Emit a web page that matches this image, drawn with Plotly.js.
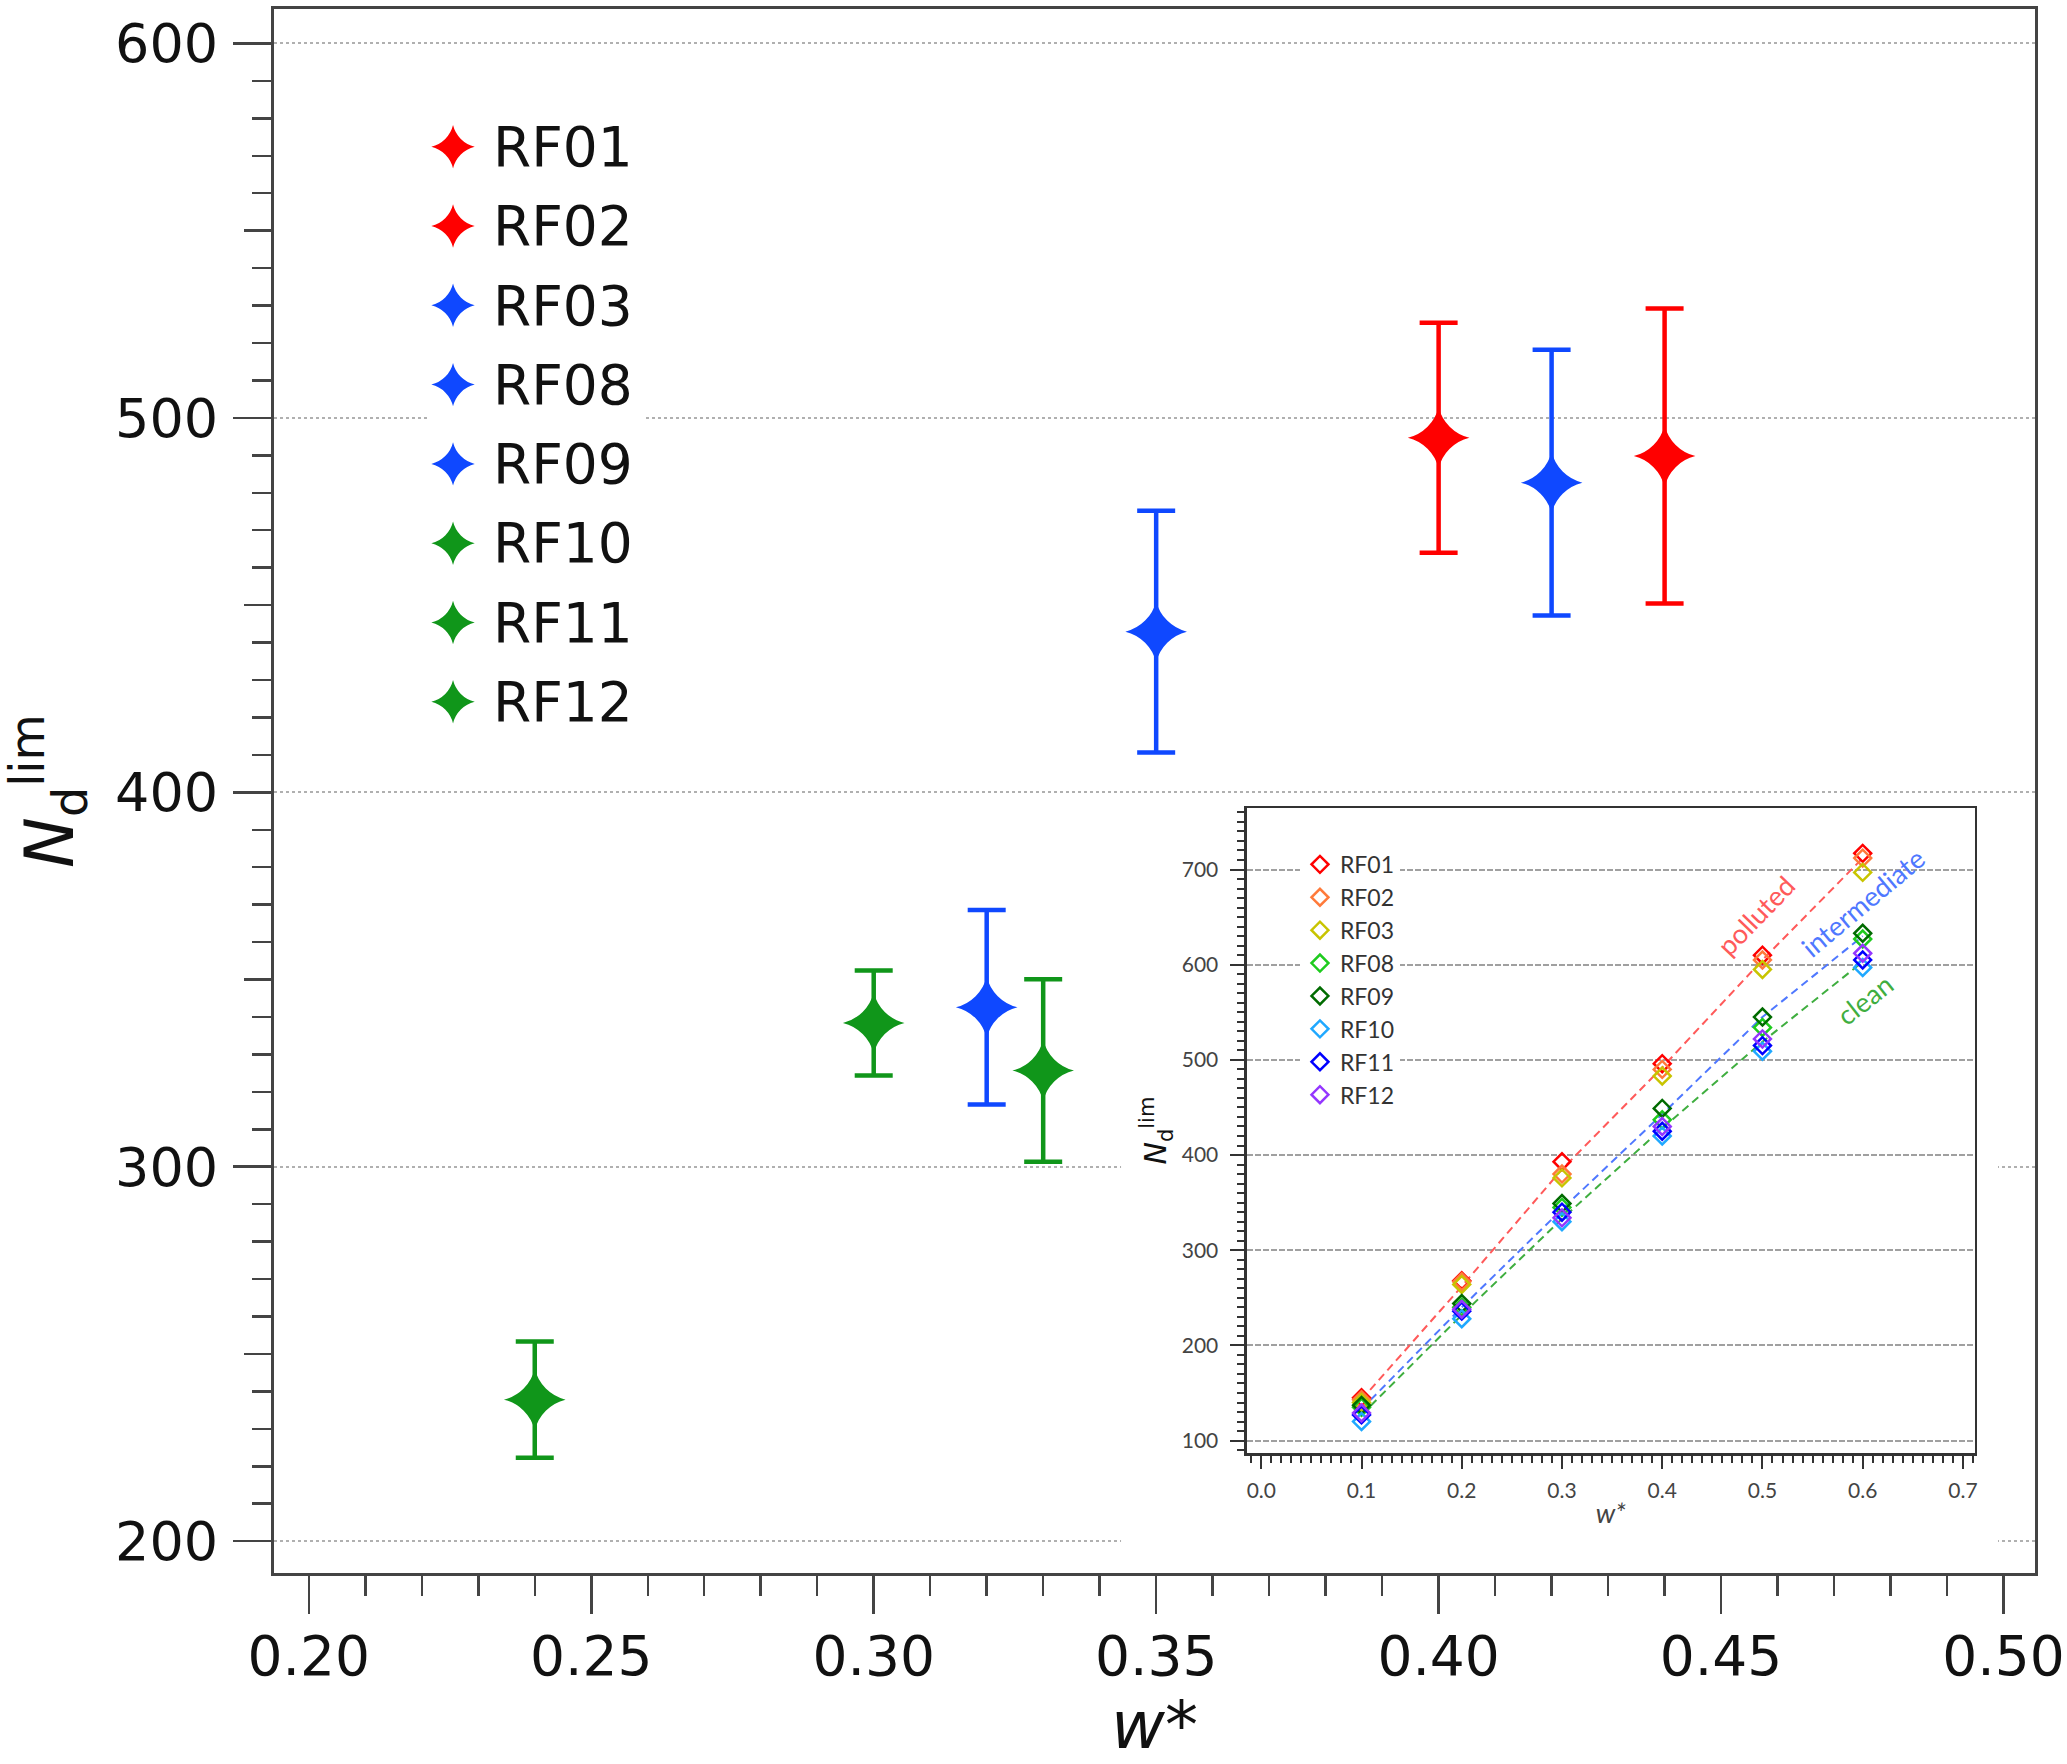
<!DOCTYPE html>
<html>
<head>
<meta charset="utf-8">
<script src="https://cdn.plot.ly/plotly-3.0.1.min.js"></script>
<style>
  html, body { margin: 0; padding: 0; background: #fff; }
  #chart { width: 2067px; height: 1764px; }
</style>
</head>
<body>
<div id="chart"></div>
<script>
// main panel: one point per flight with its error bar
const flights = ['RF01', 'RF02', 'RF03', 'RF08', 'RF09', 'RF10', 'RF11', 'RF12'];
const flightColors = ['#ff0000', '#ff0000', '#0f48ff', '#0f48ff', '#0f48ff', '#10961a', '#10961a', '#10961a'];
const wStar = [0.40, 0.44, 0.32, 0.35, 0.42, 0.24, 0.30, 0.33];
const ndLim = [494.7, 489.8, 342.6, 442.9, 482.7, 237.8, 338.4, 325.7];
const ndErr = [30.7, 39.4, 26.0, 32.3, 35.5, 15.5, 14.0, 24.4];

// inset panel: Nd_lim vs w* for each flight
const insetW = [0.1, 0.2, 0.3, 0.4, 0.5, 0.6];
const insetColors = ['#ff0000', '#ff7a3a', '#c8c400', '#1ecb1e', '#006b00', '#1fa8ff', '#0000ff', '#9436ff'];
const insetRF01 = [145, 268, 393, 496, 610, 717];
const insetRF02 = [143, 267, 380, 490, 605, 712];
const insetRF03 = [140, 264, 376, 483, 595, 697];
const insetRF08 = [135, 240, 345, 437, 534, 627];
const insetRF09 = [137, 244, 349, 449, 545, 633];
const insetRF10 = [120, 228, 330, 420, 509, 597];
const insetRF11 = [127, 236, 340, 425, 515, 605];
const insetRF12 = [129, 238, 334, 430, 522, 612];
const insetSeries = [insetRF01, insetRF02, insetRF03, insetRF08, insetRF09, insetRF10, insetRF11, insetRF12];

// fitted regimes in the inset
const fitNames = ['polluted', 'intermediate', 'clean'];
const fitColors = ['#ff5a5a', '#4f78ff', '#3fae3f'];
const fitPolluted = [143, 262, 385, 492, 605, 712];
const fitIntermediate = [133, 240, 343, 443, 545, 630];
const fitClean = [127, 232, 333, 428, 519, 603];
const fitSeries = [fitPolluted, fitIntermediate, fitClean];
const labelW = [0.493, 0.600, 0.602];
const labelNd = [652, 665, 563];
const labelAngle = [-46, -40, -38];

const mainFont = 'DejaVu Sans';
const insetFont = 'Lato';
const axisGrey = '#444';

const traces = [];

flights.forEach((name, i) => {
  traces.push({
    type: 'scatter', mode: 'markers', name: name,
    x: [wStar[i]], y: [ndLim[i]],
    xaxis: 'x', yaxis: 'y', showlegend: false,
    marker: { symbol: 'star-diamond', size: 44, color: flightColors[i] },
    error_y: { type: 'data', array: [ndErr[i]], color: flightColors[i], thickness: 4.5, width: 19 }
  });
});

// extra left axis that only carries the mid ticks at the 50s
traces.push({ type: 'scatter', x: [], y: [], xaxis: 'x', yaxis: 'y5', showlegend: false });
// empty panel whose white background blanks the main grid behind the inset
traces.push({ type: 'scatter', x: [], y: [], xaxis: 'x2', yaxis: 'y2', showlegend: false });

fitNames.forEach((name, i) => {
  traces.push({
    type: 'scatter', mode: 'lines', name: name,
    x: insetW, y: fitSeries[i], xaxis: 'x3', yaxis: 'y3', showlegend: false,
    line: { color: fitColors[i], width: 2, dash: '8px,5px' }
  });
});

flights.forEach((name, i) => {
  traces.push({
    type: 'scatter', mode: 'markers', name: name,
    x: insetW, y: insetSeries[i], xaxis: 'x3', yaxis: 'y3',
    marker: { symbol: 'diamond-open', size: 13, color: insetColors[i], line: { width: 2.5, color: insetColors[i] } }
  });
});

// key for the main panel, drawn on its own small category axis
traces.push({
  type: 'scatter', mode: 'markers', name: 'key',
  x: flights.map(() => 0), y: flights, xaxis: 'x4', yaxis: 'y4', showlegend: false,
  marker: { symbol: 'star-diamond', size: 31, color: flightColors }
});

const annotations = fitNames.map((name, i) => ({
  text: name, xref: 'x3', yref: 'y3', x: labelW[i], y: labelNd[i],
  showarrow: false, textangle: labelAngle[i],
  font: { family: insetFont, size: 27, color: fitColors[i] }
}));

const layout = {
  width: 2067, height: 1764,
  margin: { l: 274, r: 32, t: 9, b: 191, pad: 0 },
  paper_bgcolor: '#fff', plot_bgcolor: '#fff',
  showlegend: true,
  legend: {
    x: 0.5826, y: 0.4668, xanchor: 'left', yanchor: 'top',
    bgcolor: '#fff', borderwidth: 0,
    font: { family: insetFont, size: 23, color: '#333' }
  },
  xaxis: {
    domain: [0, 1], range: [0.19384, 0.50557], anchor: 'y',
    tick0: 0.2, dtick: 0.05, tickformat: '.2f',
    ticks: 'outside', ticklen: 38, tickwidth: 2.5, tickcolor: axisGrey,
    minor: { dtick: 0.01, ticklen: 20, tickwidth: 2.5, tickcolor: axisGrey, showgrid: false },
    showline: true, mirror: true, linecolor: axisGrey, linewidth: 3,
    showgrid: false, zeroline: false, automargin: false,
    ticklabelstandoff: -5,
    tickfont: { family: mainFont, size: 55, color: '#111' },
    title: { text: '<i>w*</i>', standoff: 12, font: { family: mainFont, size: 66, color: '#111' } }
  },
  yaxis: {
    domain: [0, 1], range: [191.5, 609.2], anchor: 'x',
    dtick: 100, ticks: 'outside', ticklen: 38, tickwidth: 2.5, tickcolor: axisGrey,
    minor: { dtick: 10, ticklen: 19, tickwidth: 2.5, tickcolor: axisGrey, showgrid: false },
    showline: true, mirror: true, linecolor: axisGrey, linewidth: 3,
    showgrid: true, gridcolor: '#b0b0b0', gridwidth: 2, griddash: 'dot',
    zeroline: false, automargin: false,
    ticklabelstandoff: 4,
    tickfont: { family: mainFont, size: 54, color: '#111' },
    title: { text: '<i>N</i><sub>d</sub><sup>lim</sup>', standoff: 36, font: { family: mainFont, size: 68, color: '#111' } }
  },
  yaxis5: {
    overlaying: 'y', anchor: 'x', side: 'left', range: [191.5, 609.2],
    tickvals: [250, 350, 450, 550], ticks: 'outside', ticklen: 29, tickwidth: 2.5, tickcolor: axisGrey,
    showticklabels: false, showgrid: false, zeroline: false, showline: false
  },
  xaxis2: { domain: [0.481, 0.979], anchor: 'y2', visible: false, range: [0, 1] },
  yaxis2: { domain: [0.0173, 0.494], anchor: 'x2', visible: false, range: [0, 1] },
  xaxis3: {
    domain: [0.5525, 0.9659], range: [-0.0143, 0.712], anchor: 'y3',
    tick0: 0, dtick: 0.1, tickformat: '.1f',
    ticks: 'outside', ticklen: 13, tickwidth: 2, tickcolor: '#333',
    minor: { dtick: 0.01, ticklen: 7, tickwidth: 2, tickcolor: '#333', showgrid: false },
    showline: true, mirror: true, linecolor: '#333', linewidth: 2.5,
    showgrid: false, zeroline: false,
    ticklabelstandoff: 4,
    tickfont: { family: insetFont, size: 21, color: '#444' },
    title: { text: '<i>w*</i>', standoff: 4, font: { family: insetFont, size: 27, color: '#444' } }
  },
  yaxis3: {
    domain: [0.0767, 0.4891], range: [86.9, 764.6], anchor: 'x3',
    dtick: 100, ticks: 'outside', ticklen: 14, tickwidth: 2, tickcolor: '#333',
    minor: { dtick: 10, ticklen: 7, tickwidth: 2, tickcolor: '#333', showgrid: false },
    showline: true, mirror: true, linecolor: '#333', linewidth: 2.5,
    showgrid: true, gridcolor: '#a0a0a0', gridwidth: 2, griddash: '6px,2px',
    zeroline: false,
    ticklabelstandoff: 8,
    tickfont: { family: insetFont, size: 21, color: '#444' },
    title: { text: '<i>N</i><sub>d</sub><sup>lim</sup>', standoff: 6, font: { family: mainFont, size: 30, color: '#111' } }
  },
  xaxis4: { domain: [0.0869, 0.2101], range: [-1, 7.345], anchor: 'y4', visible: false },
  yaxis4: {
    domain: [0.5317, 0.9373], anchor: 'free', position: 0.1204, side: 'right', type: 'category',
    categoryorder: 'array', categoryarray: flights, range: [7.5, -0.5],
    ticks: '', showline: false, showgrid: false, zeroline: false,
    ticklabelstandoff: 6,
    tickfont: { family: mainFont, size: 55, color: '#111' }
  },
  annotations: annotations
};

Plotly.newPlot('chart', traces, layout, { displayModeBar: false, staticPlot: true });
</script>
</body>
</html>
